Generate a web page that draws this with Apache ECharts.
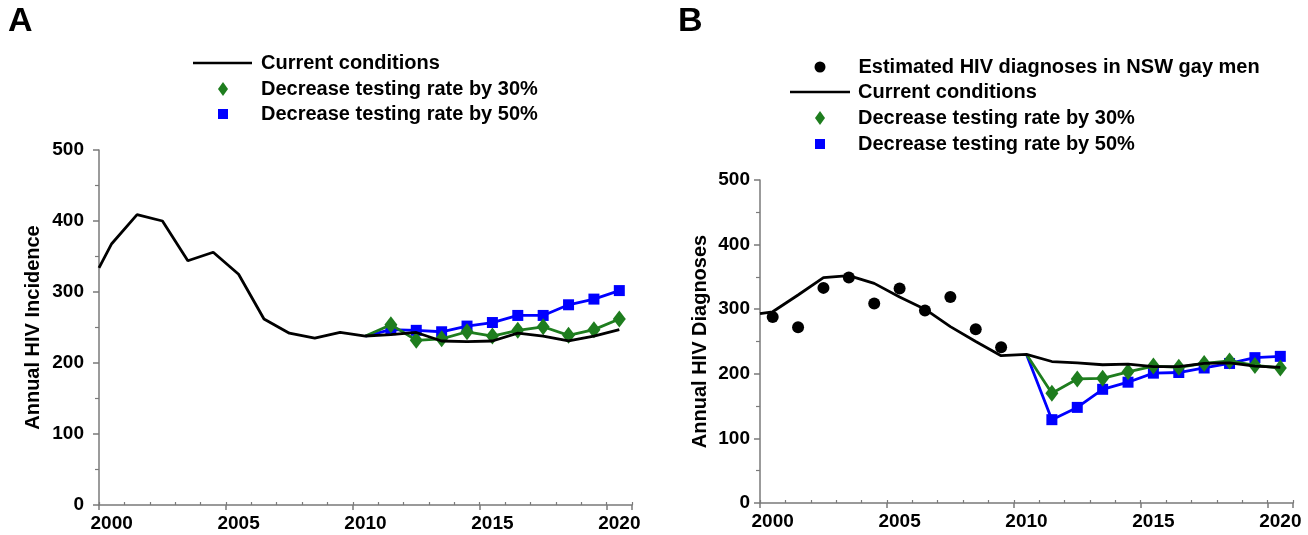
<!DOCTYPE html>
<html>
<head>
<meta charset="utf-8">
<script src="https://cdn.jsdelivr.net/npm/echarts@6/dist/echarts.min.js"></script>
<style>html,body{margin:0;padding:0;background:#fff}#c{width:1308px;height:535px}</style>
</head>
<body>
<div id="c"></div>
<script>
// ---------- data ----------
const yearLabels = ['2000','2001','2002','2003','2004','2005','2006','2007','2008','2009','2010',
                    '2011','2012','2013','2014','2015','2016','2017','2018','2019','2020'];
// x positions of the model "current conditions" curve (first point sits on the axis edge)
const curveYears = [1999.5, 2000, 2001, 2002, 2003, 2004, 2005, 2006, 2007, 2008, 2009, 2010,
                    2011, 2012, 2013, 2014, 2015, 2016, 2017, 2018, 2019, 2020];
const scenarioYears = [2010, 2011, 2012, 2013, 2014, 2015, 2016, 2017, 2018, 2019, 2020];
const dataYears = [2000, 2001, 2002, 2003, 2004, 2005, 2006, 2007, 2008, 2009];

// Panel A – Annual HIV incidence
const incCurrent = [334, 368, 409, 400, 344, 356, 325, 262, 242, 235, 243, 238,
                    240, 243, 231, 230, 231, 242, 238, 231, 238, 247];
const incDec30 = [238, 254, 232, 234, 244, 238, 246, 251, 239, 247, 262];
const incDec50 = [238, 247, 246, 244, 252, 257, 267, 267, 282, 290, 302];

// Panel B – Annual HIV diagnoses
const diagObserved = [288, 272, 333, 349, 309, 332, 298, 319, 269, 241];
const diagCurrent = [293, 296, 322, 349, 352, 340, 319, 300, 273, 250, 228, 230,
                     219, 217, 214, 215, 211, 211, 216, 217, 212, 210];
const diagDec30 = [230, 170, 192, 193, 203, 212, 210, 216, 220, 213, 209];
const diagDec50 = [230, 129, 148, 176, 187, 201, 202, 209, 216, 225, 227];

const yTicks = [0, 100, 200, 300, 400, 500];

// ---------- helpers ----------
const FONT = "'Liberation Sans', Arial, Helvetica, sans-serif";
const GRAY = '#7a7a7a';
const GREEN = '#1e7d1e';
const BLUE = '#0000ff';
const zip = (xs, ys) => xs.map((x, i) => [x, ys[i]]);
const scen = (xs, ys) => xs.map((x, i) => i === 0 ? {value: [x, ys[i]], symbol: 'none'} : [x, ys[i]]);

function xAxesFor(grid) {
  return [
    { // major ticks + labels
      type: 'category', gridIndex: grid, position: 'bottom', data: yearLabels, boundaryGap: true,
      axisLine: {show: true, lineStyle: {color: GRAY, width: 1.5}},
      axisTick: {show: true, interval: 4, length: 5, inside: false, lineStyle: {color: GRAY, width: 1.5}},
      axisLabel: {interval: 4, margin: 9, color: '#000', fontSize: 19, fontWeight: 'bold', fontFamily: FONT},
      splitLine: {show: false}
    },
    { // minor yearly ticks
      type: 'category', gridIndex: grid, position: 'bottom', data: yearLabels, boundaryGap: true,
      axisLine: {show: false},
      axisTick: {show: true, interval: 0, length: 3, inside: true, lineStyle: {color: GRAY, width: 1.2}},
      axisLabel: {show: false}, splitLine: {show: false}
    },
    { // hidden value axis that places the marks
      type: 'value', gridIndex: grid, position: 'bottom', min: 1999.5, max: 2020.5, show: false
    }
  ];
}
function yAxisFor(grid, name, gap, margin) {
  return {
    type: 'value', gridIndex: grid, min: yTicks[0], max: yTicks[yTicks.length - 1], interval: 100,
    name: name, nameLocation: 'middle', nameGap: gap, nameRotate: 90,
    nameTextStyle: {color: '#000', fontSize: 20, fontWeight: 'bold', fontFamily: FONT},
    axisLine: {show: true, lineStyle: {color: GRAY, width: 1.5}},
    axisTick: {show: true, length: 6, lineStyle: {color: GRAY, width: 1.5}},
    minorTick: {show: true, splitNumber: 2, length: 4, lineStyle: {color: GRAY, width: 1.2}},
    axisLabel: {margin: margin, color: '#000', fontSize: 19, fontWeight: 'bold', fontFamily: FONT},
    splitLine: {show: false}, minorSplitLine: {show: false}
  };
}
function legendItem(name, icon, w, h, left, top, pad) {
  return {
    data: [{name: name, icon: icon}], left: left, top: top, padding: 0,
    itemWidth: w, itemHeight: h, selectedMode: false, symbolKeepAspect: false,
    textStyle: {color: '#000', fontSize: 20, fontWeight: 'bold', fontFamily: FONT, padding: [0, 0, 0, pad]}
  };
}

const option = {
  animation: false,
  backgroundColor: '#fff',
  title: [
    {text: 'A', left: 8, top: 5, padding: 0, textStyle: {fontSize: 34, fontWeight: 'bold', fontFamily: FONT, color: '#000'}},
    {text: 'B', left: 678, top: 5, padding: 0, textStyle: {fontSize: 34, fontWeight: 'bold', fontFamily: FONT, color: '#000'}}
  ],
  legend: [
    legendItem('Current conditions', 'rect', 59, 2.5, 193, 53, 4),
    legendItem('Decrease testing rate by 30%', 'diamond', 10, 14, 218, 79, 28),
    legendItem('Decrease testing rate by 50%', 'rect', 10, 10, 218, 104, 28),
    legendItem('Estimated HIV diagnoses in NSW gay men', 'circle', 11, 11, 814.5, 57, 28),
    legendItem('Current conditions', 'rect', 60, 2.5, 790, 82, 3),
    legendItem('Decrease testing rate by 30%', 'diamond', 10, 14, 815, 108, 28),
    legendItem('Decrease testing rate by 50%', 'rect', 10, 10, 815, 134, 28)
  ],
  grid: [
    {left: 99, top: 150, width: 533, height: 355},
    {left: 760, top: 180, width: 533, height: 323}
  ],
  xAxis: xAxesFor(0).concat(xAxesFor(1)),
  yAxis: [
    yAxisFor(0, 'Annual HIV Incidence', 56, 15),
    yAxisFor(1, 'Annual HIV Diagnoses', 50, 10)
  ],
  series: [
    // Panel A
    {name: 'Decrease testing rate by 50%', type: 'line', xAxisIndex: 2, yAxisIndex: 0,
     data: scen(scenarioYears, incDec50), symbol: 'rect', symbolSize: 11,
     itemStyle: {color: BLUE, opacity: 1}, lineStyle: {color: BLUE, width: 2.8}, z: 3},
    {name: 'Decrease testing rate by 30%', type: 'line', xAxisIndex: 2, yAxisIndex: 0,
     data: scen(scenarioYears, incDec30), symbol: 'diamond', symbolSize: [13, 17],
     itemStyle: {color: GREEN, opacity: 1}, lineStyle: {color: GREEN, width: 2.8}, z: 4},
    {name: 'Current conditions', type: 'line', xAxisIndex: 2, yAxisIndex: 0,
     data: zip(curveYears, incCurrent), symbol: 'none',
     itemStyle: {color: '#000'}, lineStyle: {color: '#000', width: 2.8}, z: 5},
    // Panel B
    {name: 'Decrease testing rate by 50%', type: 'line', xAxisIndex: 5, yAxisIndex: 1,
     data: scen(scenarioYears, diagDec50), symbol: 'rect', symbolSize: 11,
     itemStyle: {color: BLUE, opacity: 1}, lineStyle: {color: BLUE, width: 2.8}, z: 3},
    {name: 'Decrease testing rate by 30%', type: 'line', xAxisIndex: 5, yAxisIndex: 1,
     data: scen(scenarioYears, diagDec30), symbol: 'diamond', symbolSize: [13, 17],
     itemStyle: {color: GREEN, opacity: 1}, lineStyle: {color: GREEN, width: 2.8}, z: 4},
    {name: 'Current conditions', type: 'line', xAxisIndex: 5, yAxisIndex: 1,
     data: zip(curveYears, diagCurrent), symbol: 'none',
     itemStyle: {color: '#000'}, lineStyle: {color: '#000', width: 2.8}, z: 5},
    {name: 'Estimated HIV diagnoses in NSW gay men', type: 'scatter', xAxisIndex: 5, yAxisIndex: 1,
     data: zip(dataYears, diagObserved), symbol: 'circle', symbolSize: 12,
     itemStyle: {color: '#000', opacity: 1}, z: 6}
  ]
};
const chart = echarts.init(document.getElementById('c'), null, {renderer: 'canvas'});
chart.setOption(option);
</script>
</body>
</html>
